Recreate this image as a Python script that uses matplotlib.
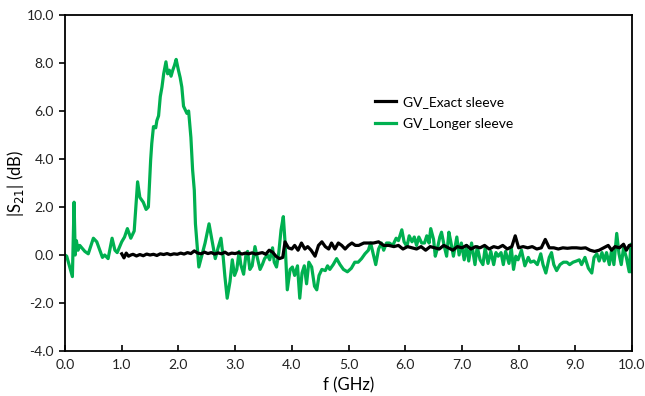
"""|S21| versus frequency for the two sleeve variants."""

import matplotlib
matplotlib.use("Agg")
import matplotlib.pyplot as plt

# GV_Longer sleeve (green)
freq_longer = [
    0.0, 0.03, 0.13, 0.16, 0.18, 0.2, 0.23, 0.26, 0.35, 0.41, 0.5, 0.56,
    0.66, 0.7, 0.76, 0.83, 0.88, 0.92, 1.0, 1.05, 1.1, 1.16, 1.22, 1.28,
    1.32, 1.38, 1.43, 1.47, 1.51, 1.53, 1.56, 1.6, 1.62, 1.65, 1.68, 1.71,
    1.74, 1.78, 1.81, 1.84, 1.87, 1.9, 1.93, 1.96, 2.0, 2.03, 2.06, 2.09,
    2.12, 2.15, 2.18, 2.22, 2.25, 2.28, 2.3, 2.36, 2.41, 2.47, 2.54, 2.59,
    2.65, 2.7, 2.75, 2.79, 2.82, 2.86, 2.91, 2.95, 2.99, 3.03, 3.07, 3.1,
    3.15, 3.19, 3.22, 3.26, 3.3, 3.35, 3.39, 3.44, 3.48, 3.52, 3.57, 3.61,
    3.66, 3.69, 3.73, 3.77, 3.81, 3.85, 3.88, 3.92, 3.97, 4.01, 4.05, 4.1,
    4.14, 4.18, 4.22, 4.26, 4.3, 4.35, 4.4, 4.44, 4.48, 4.53, 4.59, 4.63,
    4.67, 4.73, 4.79, 4.85, 4.91, 4.98, 5.05, 5.11, 5.17, 5.23, 5.29, 5.35,
    5.39, 5.44, 5.48, 5.53, 5.58, 5.62, 5.67, 5.72, 5.78, 5.84, 5.88, 5.94,
    5.98, 6.03, 6.07, 6.12, 6.16, 6.2, 6.24, 6.29, 6.34, 6.38, 6.42, 6.45,
    6.5, 6.53, 6.57, 6.61, 6.64, 6.69, 6.73, 6.77, 6.8, 6.85, 6.91, 6.95,
    6.99, 7.04, 7.08, 7.12, 7.17, 7.23, 7.27, 7.32, 7.37, 7.41, 7.46, 7.51,
    7.56, 7.6, 7.64, 7.69, 7.73, 7.77, 7.83, 7.87, 7.91, 7.95, 7.99, 8.05,
    8.11, 8.17, 8.21, 8.27, 8.33, 8.39, 8.43, 8.48, 8.54, 8.58, 8.62, 8.67,
    8.73, 8.79, 8.85, 8.9, 8.96, 9.02, 9.07, 9.11, 9.17, 9.23, 9.29, 9.33,
    9.38, 9.42, 9.47, 9.51, 9.55, 9.6, 9.64, 9.68, 9.73, 9.77, 9.81, 9.85,
    9.9, 9.95, 9.98, 10.0,
]
s21_longer = [
    0.0, -0.05, -0.9, 2.2, 0.0, 0.6, 0.2, 0.4, 0.15, 0.05, 0.7, 0.55,
    -0.1, 0.0, -0.15, 0.7, 0.2, 0.1, 0.55, 0.75, 1.1, 0.7, 1.0, 3.05,
    2.4, 2.2, 1.9, 2.0, 3.95, 4.65, 5.35, 5.3, 5.6, 5.8, 6.6, 7.0,
    7.55, 8.05, 7.55, 7.7, 7.45, 7.7, 7.9, 8.15, 7.7, 7.4, 7.0, 6.2,
    6.05, 5.9, 6.0, 4.9, 3.55, 2.7, 1.3, -0.5, -0.05, 0.5, 1.3, 0.65,
    -0.15, 0.3, 0.7, -0.1, -0.9, -1.8, -1.1, -0.2, -0.85, -0.6, 0.15, -0.4,
    -0.8, 0.0, 0.15, -0.6, -0.45, 0.35, -0.1, -0.6, -0.4, -0.15, 0.0, -0.2,
    0.3, -0.3, -0.5, 0.1, 1.05, 1.6, 0.55, -1.45, -0.6, -0.5, -0.85, -0.45,
    -1.8, -0.75, -0.45, -1.2, -0.3, -0.5, -1.3, -1.45, -0.85, -0.6, -0.65, -0.45,
    -0.6, -0.4, -0.15, -0.4, -0.6, -0.7, -0.55, -0.3, -0.3, -0.15, 0.05, 0.2,
    0.5, 0.0, -0.4, 0.25, 0.5, 0.2, 0.5, 0.5, 0.4, 0.7, 0.6, 1.05,
    0.55, 0.35, 0.8, 0.55, 0.75, 0.4, 0.75, 0.5, 0.5, 0.8, 0.5, 1.1,
    0.65, -0.05, 0.3, 0.75, 0.95, 0.35, -0.05, 0.95, 0.6, -0.05, 0.75, 0.0,
    0.5, -0.2, 0.4, -0.25, 0.5, -0.4, 0.35, -0.2, -0.4, 0.3, -0.35, 0.15,
    -0.4, 0.1, -0.05, 0.1, -0.4, 0.15, -0.35, 0.3, -0.6, -0.05, -0.2, 0.2,
    -0.45, -0.1, -0.3, -0.25, -0.4, 0.05, -0.4, -0.75, -0.1, 0.1, -0.4, -0.65,
    -0.4, -0.3, -0.3, -0.4, -0.3, -0.25, -0.2, -0.4, -0.1, -0.55, -0.75, -0.1,
    0.05, -0.25, 0.1, -0.25, 0.1, -0.4, 0.2, -0.4, 0.9, 0.05, -0.4, 0.3,
    -0.1, -0.7, 0.45, -0.7,
]

# GV_Exact sleeve (black)
freq_exact = [
    1.0, 1.04, 1.08, 1.12, 1.16, 1.2, 1.26, 1.32, 1.38, 1.44, 1.5, 1.56,
    1.62, 1.68, 1.74, 1.8, 1.86, 1.92, 1.98, 2.04, 2.1, 2.16, 2.22, 2.28,
    2.34, 2.4, 2.46, 2.52, 2.58, 2.64, 2.7, 2.76, 2.82, 2.88, 2.94, 3.0,
    3.06, 3.12, 3.18, 3.24, 3.3, 3.36, 3.42, 3.48, 3.54, 3.6, 3.66, 3.72,
    3.78, 3.84, 3.88, 3.94, 4.0, 4.05, 4.11, 4.17, 4.23, 4.28, 4.34, 4.41,
    4.47, 4.53, 4.59, 4.65, 4.7, 4.76, 4.82, 4.88, 4.94, 5.0, 5.06, 5.12,
    5.18, 5.27, 5.36, 5.44, 5.53, 5.62, 5.71, 5.8, 5.88, 5.96, 6.04, 6.12,
    6.2, 6.28, 6.36, 6.44, 6.52, 6.6, 6.68, 6.76, 6.84, 6.92, 7.0, 7.08,
    7.16, 7.24, 7.32, 7.4, 7.48, 7.56, 7.64, 7.72, 7.8, 7.88, 7.94, 8.0,
    8.08, 8.16, 8.24, 8.32, 8.4, 8.47, 8.54, 8.62, 8.7, 8.78, 8.86, 8.94,
    9.02, 9.1, 9.18, 9.26, 9.34, 9.42, 9.5, 9.58, 9.64, 9.7, 9.78, 9.85,
    9.9, 9.95, 10.0,
]
s21_exact = [
    0.05, -0.12, 0.08, -0.05, 0.0, 0.03, -0.04, 0.02, -0.03, 0.04, 0.0, 0.03,
    -0.02, 0.05, 0.02, 0.06, 0.01, 0.05, 0.03, 0.08, 0.04, 0.1, 0.06, 0.17,
    0.08, 0.05, 0.12, 0.06, 0.1, 0.04, 0.09, 0.05, 0.12, 0.03, 0.08, 0.06,
    0.1, 0.04, 0.08, 0.05, 0.09, 0.04, 0.07, 0.1, 0.03, 0.2, 0.12, -0.05,
    -0.15, -0.1, 0.55, 0.3, 0.25, 0.4, 0.2, 0.5, 0.25, 0.35, 0.2, -0.05,
    0.4, 0.55, 0.35, 0.25, 0.5, 0.25, 0.5, 0.4, 0.25, 0.4, 0.5, 0.4,
    0.4, 0.5, 0.5, 0.5, 0.55, 0.4, 0.4, 0.35, 0.4, 0.25, 0.35, 0.3,
    0.25, 0.35, 0.2, 0.35, 0.3, 0.25, 0.4, 0.3, 0.2, 0.35, 0.3, 0.4,
    0.25, 0.35, 0.3, 0.4, 0.25, 0.35, 0.3, 0.4, 0.25, 0.35, 0.8, 0.3,
    0.35, 0.3, 0.35, 0.25, 0.3, 0.65, 0.3, 0.3, 0.25, 0.3, 0.28, 0.3,
    0.3, 0.28, 0.3, 0.2, 0.15, 0.2, 0.3, 0.4, 0.2, 0.35, 0.3, 0.45,
    0.2, 0.4, 0.4,
]

GREEN = "#00B050"

plt.rcParams["font.family"] = ["Lato", "DejaVu Sans"]
plt.rcParams["axes.unicode_minus"] = False
plt.rcParams["font.size"] = 10

fig = plt.figure(figsize=(6.45, 3.96), dpi=100)
ax = fig.add_axes([0.1008, 0.1136, 0.8791, 0.8485])

ax.plot(freq_exact, s21_exact, color="black", linewidth=2.3,
        label="GV_Exact sleeve", zorder=3)
ax.plot(freq_longer, s21_longer, color=GREEN, linewidth=2.3,
        label="GV_Longer sleeve", zorder=2)

ax.set_xlim(0, 10)
ax.set_ylim(-4, 10)
ax.set_xticks(range(0, 11))
ax.set_yticks(range(-4, 11, 2))
ax.xaxis.set_major_formatter("{x:.1f}")
ax.yaxis.set_major_formatter("{x:.1f}")
ax.tick_params(axis="x", direction="in", length=4, width=1.2, pad=6,
               colors="black", labelcolor="#222222")
ax.tick_params(axis="y", direction="out", length=4, width=1.2, pad=4,
               colors="black", labelcolor="#222222")
for side in ax.spines.values():
    side.set_linewidth(1.3)
    side.set_color("black")

ax.set_xlabel("f (GHz)", fontsize=12)
ax.set_ylabel("|S$_{21}$| (dB)", fontsize=12)
ax.xaxis.set_label_coords(0.5, -0.077)
ax.yaxis.set_label_coords(-0.068, 0.5)

ax.legend(loc="center left", bbox_to_anchor=(0.525, 0.708), frameon=False,
          handlelength=1.5, handletextpad=0.5, labelspacing=0.7,
          fontsize=10)

fig.savefig("out.png", dpi=100)
